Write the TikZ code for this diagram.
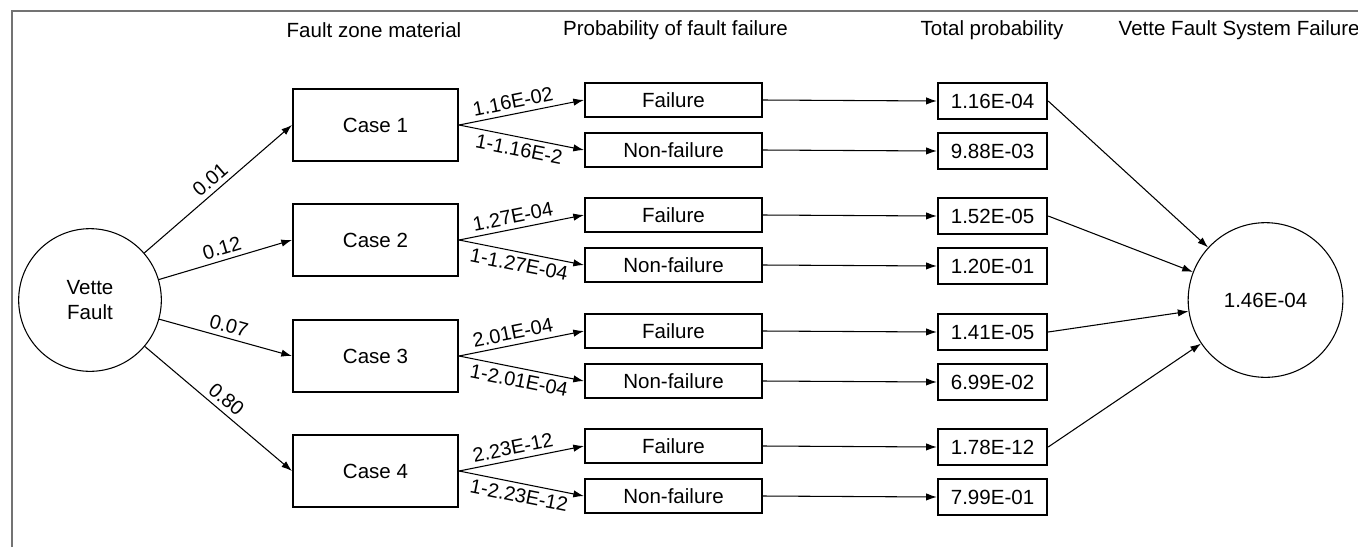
\documentclass[tikz,border=0pt]{standalone}
\usepackage{fontspec}
\setmainfont{Liberation Sans}
\usetikzlibrary{arrows.meta}
\begin{document}
\begin{tikzpicture}[x=0.75pt,y=-0.75pt,
  txt/.style={font=\fontsize{15.4}{18.75}\selectfont},
  lbl/.style={font=\fontsize{15}{17}\selectfont, inner sep=3.5pt},
  casebox/.style={draw, line width=1.3pt, minimum width=124pt, minimum height=54.5pt, inner sep=0pt, txt},
  failbox/.style={draw, line width=1.3pt, minimum width=133pt, minimum height=25pt, inner sep=0pt, txt},
  totbox/.style={draw, line width=1.5pt, minimum width=82pt, minimum height=27pt, inner sep=0pt, txt},
  bigcirc/.style={draw, circle, line width=0.8pt, inner sep=0pt, txt, align=center},
  arr/.style={-{Latex[length=8pt,width=5.5pt]}, line width=0.8pt},
  framing/.style={draw=black!55, line width=1.1pt}
]
\useasboundingbox (0,0) rectangle (1358,547);
% frame
\coordinate (fbl) at (12,547);
\coordinate (ftl) at (12,11);
\coordinate (ftr) at (1358,11);
\draw[framing] (fbl) -- (ftl) -- (ftr);
% headers
\node[txt] (h1) at (374,30) {Fault zone material};
\node[txt] (h2) at (675.5,30) {Probability of fault failure};
\node[txt] (h3) at (992,30) {Total probability};
\node[txt,anchor=west] (h4) at (1114,30) {Vette Fault System Failure};
% main circles
\node[bigcirc, minimum size=107pt] (v) at (90,300) {Vette\\Fault};
\node[bigcirc, minimum size=116pt] (R) at (1265.5,300) {1.46E-04};
% cases
\foreach \i/\y/\pc/\pf/\pn/\tf/\tn in {
  1/125/0.01/1.16E-02/1-1.16E-2/1.16E-04/9.88E-03,
  2/240/0.12/1.27E-04/1-1.27E-04/1.52E-05/1.20E-01,
  3/356/0.07/2.01E-04/1-2.01E-04/1.41E-05/6.99E-02,
  4/471/0.80/2.23E-12/1-2.23E-12/1.78E-12/7.99E-01}{
  \node[casebox] (c\i) at (375.5,\y) {Case \i};
  \node[failbox] (f\i) at (673.5,\y-25) {Failure};
  \node[failbox] (n\i) at (673.5,\y+25) {Non-failure};
  \node[totbox] (tf\i) at (992.5,\y-24) {\tf};
  \node[totbox] (tn\i) at (992.5,\y+26) {\tn};
  \draw[arr] (v) -- node[lbl, midway, above, sloped] {\pc} (c\i.west);
  \draw[arr] (c\i.east) -- node[lbl, pos=0.45, above, sloped] {\pf} (f\i.west);
  \draw[arr] (c\i.east) -- node[lbl, pos=0.5, below, sloped] {\pn} (n\i.west);
  \draw[arr] (f\i.east) -- (tf\i.west);
  \draw[arr] (n\i.east) -- (tn\i.west);
  \draw[arr] (tf\i.east) -- (R);
}
\end{tikzpicture}
\end{document}
